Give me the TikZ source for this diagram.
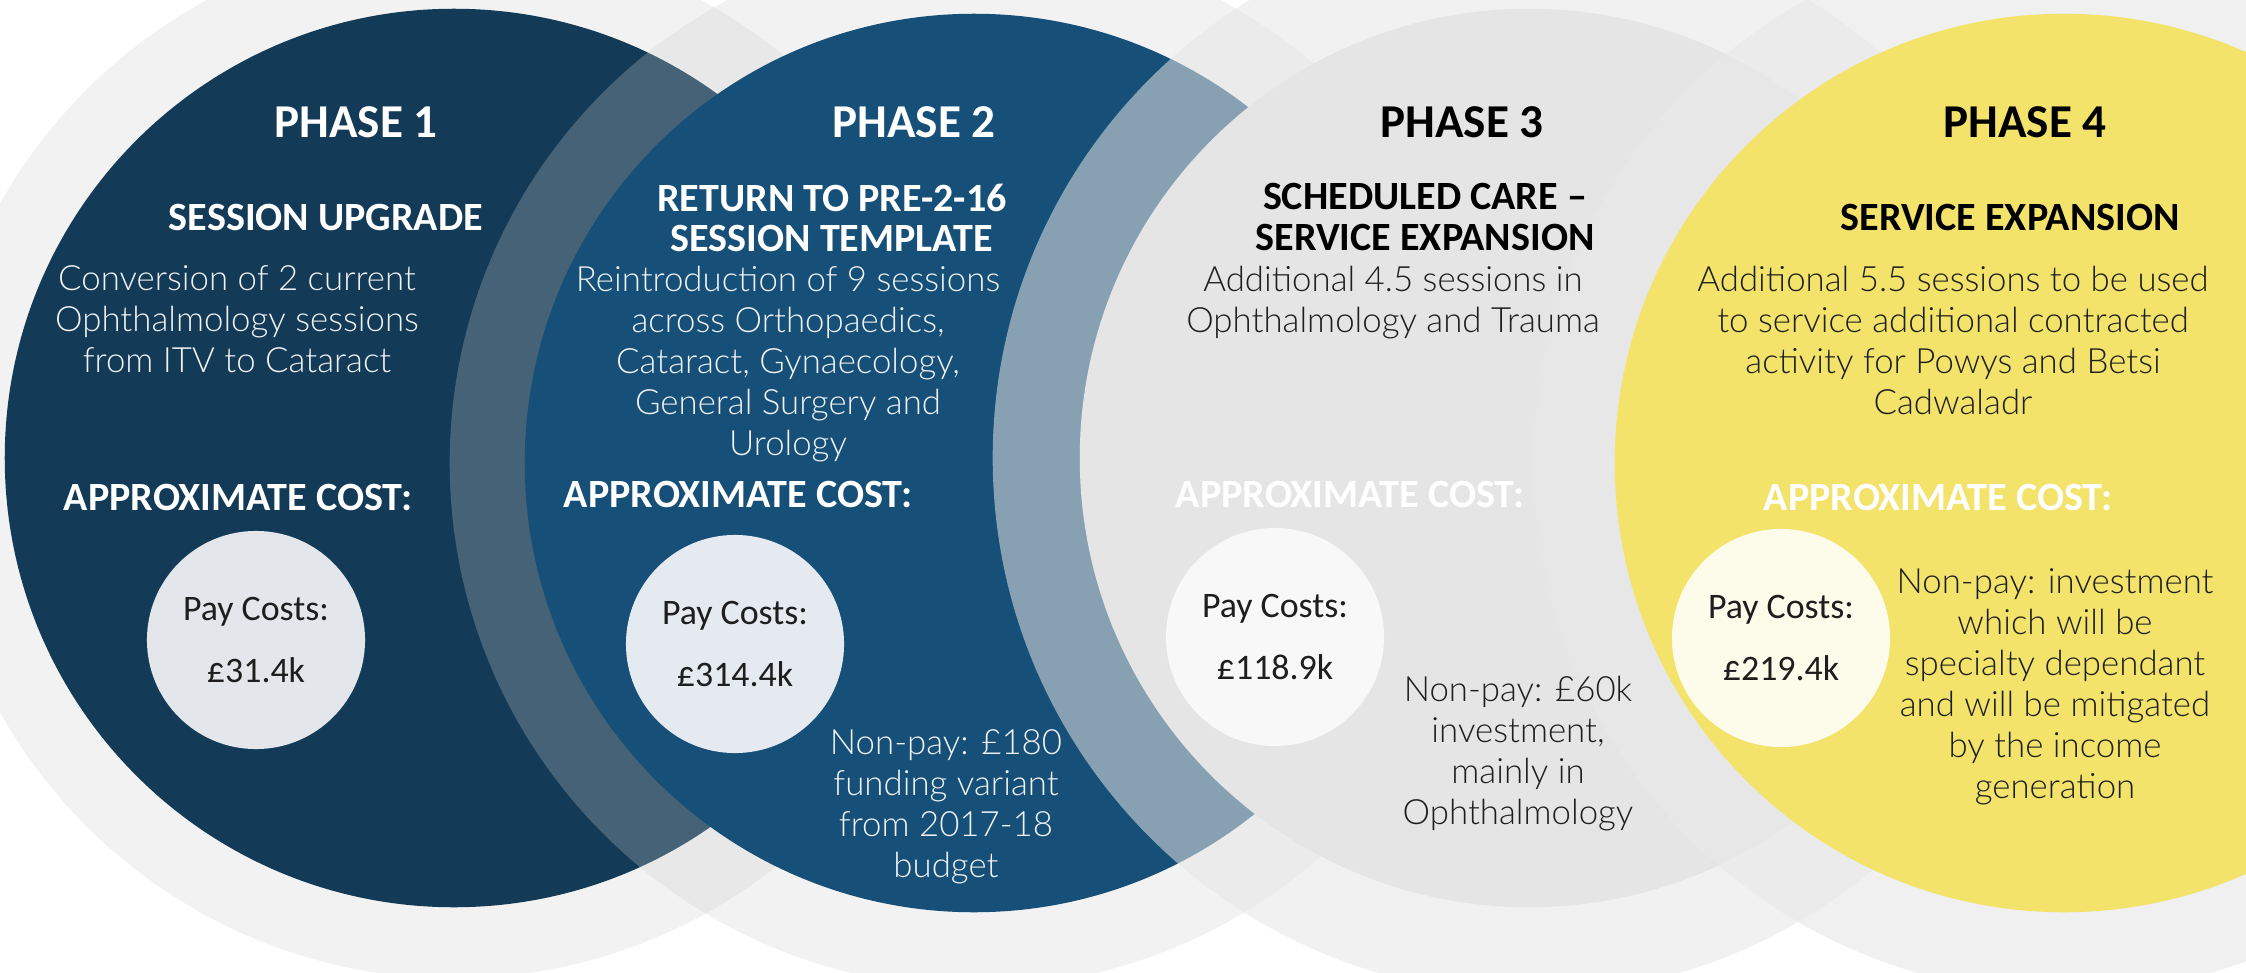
\documentclass[tikz,border=0pt]{standalone}
\usepackage{fontspec}
\setmainfont{Carlito}
\newfontfamily\lightfont{Lato Light}
\newfontfamily\payfont{Carlito}
\usepackage{xcolor}
\usepackage{tikz}
\usetikzlibrary{positioning}

\definecolor{navy}{HTML}{133A56}
\definecolor{steel}{HTML}{164F78}
\definecolor{mist}{HTML}{E6E5E6}
\definecolor{sun}{HTML}{F3E36B}
\definecolor{haze}{HTML}{F2F2F2}
\definecolor{hazeB}{HTML}{CFCFCF}
\definecolor{hazeC}{HTML}{E5E5E5}
\definecolor{hazeD}{HTML}{E9E9E9}
\definecolor{payA}{HTML}{E3E7EC}
\definecolor{payB}{HTML}{E4EAF0}
\definecolor{payC}{HTML}{F8F8F8}
\definecolor{payD}{HTML}{FDFBEA}
\definecolor{inkdark}{HTML}{1E1E1E}
\definecolor{inklight}{HTML}{F0F2F4}

\begin{document}
\begin{tikzpicture}[x=0.01cm, y=-0.01cm,
    phasetitle/.style={font=\fontsize{13.4pt}{15pt}\selectfont\bfseries, anchor=base, inner sep=0pt},
    subtitle/.style={font=\fontsize{11.4pt}{11.4pt}\selectfont\bfseries, align=center, inner sep=0pt},
    bodytext/.style={font=\lightfont\fontsize{9.9pt}{11.67pt}\selectfont, align=center, anchor=north, inner sep=0pt},
    costlabel/.style={font=\fontsize{11.4pt}{12pt}\selectfont\bfseries, anchor=base, inner sep=0pt, text=white},
    bubble/.style={circle, minimum size=2.18cm, inner sep=0pt, align=center, text=inkdark,
        font=\payfont\fontsize{10.2pt}{17.9pt}\selectfont}]

    \useasboundingbox (0,0) rectangle (2246,973);
    \clip (0,0) rectangle (2246,973);

    % Phase 1 disc
    \fill[haze] (454,458) circle[radius=5.20cm];
    \fill[navy] (454,458) circle[radius=4.49cm];

    % Phase 2 disc
    \fill[hazeB, opacity=0.27] (974,463) circle[radius=5.24cm];
    \fill[steel] (974,463) circle[radius=4.49cm];

    % Phase 3 disc
    \fill[hazeC, opacity=0.55] (1529,458) circle[radius=5.36cm];
    \fill[mist] (1529,458) circle[radius=4.49cm];

    % Phase 4 disc
    \fill[hazeD, opacity=0.7] (2064,463) circle[radius=5.30cm];
    \fill[sun] (2064,463) circle[radius=4.49cm];

    % Phase 1 text
    \node[phasetitle, text=white] (title1) at (356,137) {PHASE 1};
    \node[subtitle, anchor=base, text=white] (sub1) at (326,230) {SESSION UPGRADE};
    \node[bodytext, text=inklight] (body1) at (237,265)
        {Conversion of 2 current\\Ophthalmology sessions\\from ITV to Cataract};
    \node[costlabel] (cost1) at (238,510) {APPROXIMATE COST:};
    \node[bubble, fill=payA] (pay1) at (256,640) {Pay Costs:\\\pounds 31.4k};

    % Phase 2 text
    \node[phasetitle, text=white] (title2) at (914,137) {PHASE 2};
    \node[subtitle, anchor=north, text=white] (sub2) at (832,183)
        {RETURN TO PRE-2-16\\SESSION TEMPLATE};
    \node[bodytext, text=inklight] (body2) at (788,265)
        {Reintroduction of 9 sessions\\across Orthopaedics,\\Cataract, Gynaecology,\\General Surgery and\\Urology};
    \node[costlabel] (cost2) at (738,507) {APPROXIMATE COST:};
    \node[bubble, fill=payB] (pay2) at (735,644) {Pay Costs:\\\pounds 314.4k};
    \node[bodytext, text=inklight] (nonpay2) at (946,729)
        {Non-pay: \pounds 180\\funding variant\\from 2017-18\\budget};

    % Phase 3 text
    \node[phasetitle, text=black] (title3) at (1462,137) {PHASE 3};
    \node[subtitle, anchor=north, text=black] (sub3) at (1425,183)
        {SCHEDULED CARE --\\SERVICE EXPANSION};
    \node[bodytext, text=inkdark] (body3) at (1393,265)
        {Additional 4.5 sessions in\\Ophthalmology and Trauma};
    \node[costlabel] (cost3) at (1350,507) {APPROXIMATE COST:};
    \node[bubble, fill=payC] (pay3) at (1275,637) {Pay Costs:\\\pounds 118.9k};
    \node[bodytext, text=inkdark] (nonpay3) at (1518,675)
        {Non-pay: \pounds 60k\\investment,\\mainly in\\Ophthalmology};

    % Phase 4 text
    \node[phasetitle, text=black] (title4) at (2025,137) {PHASE 4};
    \node[subtitle, anchor=base, text=black] (sub4) at (2010,230) {SERVICE EXPANSION};
    \node[bodytext, text=inkdark] (body4) at (1953,265)
        {Additional 5.5 sessions to be used\\to service additional contracted\\activity for Powys and Betsi\\Cadwaladr};
    \node[costlabel] (cost4) at (1938,510) {APPROXIMATE COST:};
    \node[bubble, fill=payD] (pay4) at (1781,638) {Pay Costs:\\\pounds 219.4k};
    \node[bodytext, text=inkdark] (nonpay4) at (2055,568)
        {Non-pay: investment\\which will be\\specialty dependant\\and will be mitigated\\by the income\\generation};

\end{tikzpicture}
\end{document}
